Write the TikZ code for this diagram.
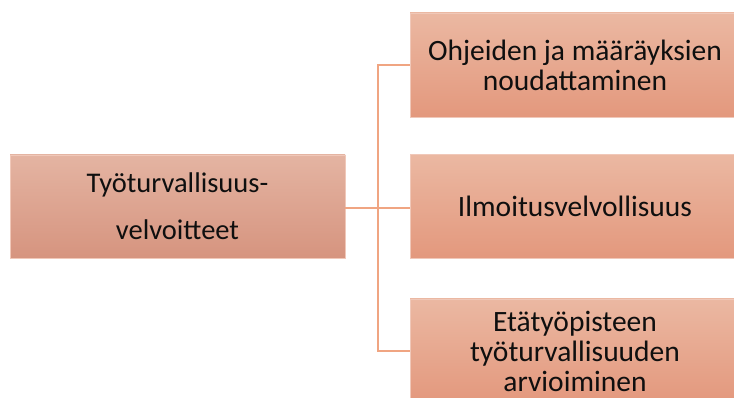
\documentclass[tikz,border=0pt]{standalone}
\usepackage{fontspec}
\setmainfont{Carlito}
\usetikzlibrary{shadings}
\definecolor{rtop}{RGB}{235,184,162}
\definecolor{rbot}{RGB}{227,152,125}
\definecolor{ltop}{RGB}{228,180,162}
\definecolor{lbot}{RGB}{214,148,127}
\definecolor{edgec}{RGB}{240,200,185}
\definecolor{linec}{RGB}{240,165,130}
\definecolor{txt}{RGB}{15,15,15}
\tikzset{
  rbox/.style={rectangle, minimum width=330pt, minimum height=104pt, top color=rtop, bottom color=rbot, draw=edgec, line width=0.6pt, text=txt, font=\fontsize{29.5}{30}\selectfont, align=center, inner sep=0pt},
  lbox/.style={rectangle, minimum width=335pt, minimum height=103pt, top color=ltop, bottom color=lbot, draw=edgec, line width=0.6pt, text=txt, font=\fontsize{28.5}{47}\selectfont, align=center, inner sep=0pt},
  conn/.style={draw=linec, line width=1.8pt}
}
\begin{document}
\begin{tikzpicture}[x=1pt,y=-1pt]
\useasboundingbox (0,0) rectangle (734,398);
\clip (0,0) rectangle (734,398);
\fill[white] (0,0) rectangle (734,398);
\node[lbox] (L) at (177.5,206.5) {Työturvallisuus-\\velvoitteet};
\node[rbox] (A) at (575,65) {Ohjeiden ja määräyksien\\noudattaminen};
\node[rbox] (B) at (575,206.5) {Ilmoitusvelvollisuus};
\node[rbox] (C) at (575,351) {Etätyöpisteen\\työturvallisuuden\\arvioiminen};
\coordinate (J) at (378,208);
\draw[conn] (L.east |- J) -- (J);
\draw[conn] (J) -- (B.west |- J);
\draw[conn] (A.west) -- (J |- A.west) -- (J |- C.west) -- (C.west);
\end{tikzpicture}
\end{document}
